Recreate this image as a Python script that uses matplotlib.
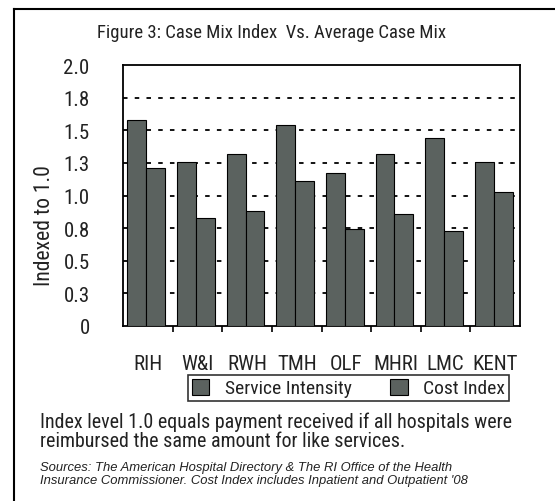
import matplotlib
matplotlib.use("Agg")
import matplotlib.pyplot as plt
from matplotlib.lines import Line2D
from matplotlib.patches import Patch
from matplotlib import font_manager
import numpy as np

categories = ["RIH", "W&I", "RWH", "TMH", "OLF", "MHRI", "LMC", "KENT"]
service_intensity = [1.58, 1.26, 1.32, 1.54, 1.17, 1.32, 1.44, 1.26]
cost_index = [1.21, 0.83, 0.88, 1.11, 0.74, 0.86, 0.73, 1.03]
ytick_values = [0, 0.25, 0.5, 0.75, 1.0, 1.25, 1.5, 1.75, 2.0]
ytick_labels = ["0", "0.3", "0.5", "0.8", "1.0", "1.3", "1.5", "1.8", "2.0"]
series_names = ["Service Intensity", "Cost Index"]

names = {f.name for f in font_manager.fontManager.ttflist}
cond = [n for n in ["Liberation Sans Narrow", "Arial Narrow", "Roboto Condensed",
                    "Open Sans Condensed", "DejaVu Sans Condensed"] if n in names]
narrow = bool(cond)
FONT = (cond[:1] if cond else []) + ["Liberation Sans", "DejaVu Sans"]
ITALIC_FONT = ["Liberation Sans", "DejaVu Sans"]
plt.rcParams['font.family'] = FONT
k = 1.0 if narrow else 0.82  # shrink sizes when no narrow font is available

W, H = 555, 502
fig = plt.figure(figsize=(W / 100, H / 100), dpi=100)
fig.patch.set_facecolor("white")

L, R, T, B = 123, 520, 66, 327
ax = fig.add_axes([L / W, 1 - B / H, (R - L) / W, (B - T) / H])

bar_color = "#5b625f"
x = np.arange(len(categories))
bw = 0.38
ax.bar(x + 0.09, service_intensity, width=bw, align="edge", color=bar_color,
       edgecolor="black", linewidth=0.8, zorder=3)
ax.bar(x + 0.09 + bw, cost_index, width=bw, align="edge", color=bar_color,
       edgecolor="black", linewidth=0.8, zorder=3)

ax.set_xlim(0, len(categories))
ax.set_ylim(0, 2.0)
ax.set_yticks(ytick_values)
ax.set_yticklabels(ytick_labels, fontsize=15 * (1.0 if narrow else 0.95), color="#222222")
ax.tick_params(axis="y", length=0, pad=24)

ax.set_xticks(x + 0.5)
ax.set_xticklabels(categories, fontsize=15 * k, color="#222222")
ax.set_xticks(np.arange(1, len(categories)), minor=True)
ax.tick_params(axis="x", which="major", length=0, pad=20)
ax.tick_params(axis="x", which="minor", length=4, width=1.2, direction="out", color="black")

for v in ytick_values[1:-1]:
    ax.axhline(v, color="black", linestyle=(0, (2.5, 4)), linewidth=1.3, zorder=1)

for s in ax.spines.values():
    s.set_linewidth(1.3)
    s.set_color("black")

fig.text(272 / W, 1 - 33 / H, "Figure 3: Case Mix Index  Vs. Average Case Mix",
         ha="center", va="center", fontsize=13.5 * k, color="#222222")
fig.text(44 / W, 1 - 226 / H, "Indexed to 1.0", rotation=90, ha="center",
         va="center", fontsize=15.5 * (1.0 if narrow else 0.92), color="#222222")

handles = [Patch(facecolor=bar_color, edgecolor="black", linewidth=0.8),
           Patch(facecolor=bar_color, edgecolor="black", linewidth=0.8)]
leg = fig.legend(handles, series_names, loc="center", ncol=2,
                 bbox_to_anchor=(348.5 / W, 1 - 389 / H), fontsize=14 * k,
                 frameon=True, fancybox=False, edgecolor="black",
                 borderpad=0.2, handlelength=0.9, handleheight=0.9,
                 handletextpad=0.8, columnspacing=2.0, borderaxespad=0)
leg.get_frame().set_linewidth(1.2)
for t in leg.get_texts():
    t.set_color("#222222")

fig.text(40 / W, 1 - 422 / H,
         "Index level 1.0 equals payment received if all hospitals were",
         ha="left", va="center", fontsize=14.4 * k, color="#222222")
fig.text(40 / W, 1 - 442 / H,
         "reimbursed the same amount for like services.",
         ha="left", va="center", fontsize=14.4 * k, color="#222222")
fig.text(40 / W, 1 - 468 / H,
         "Sources: The American Hospital Directory & The RI Office of the Health",
         ha="left", va="center", fontsize=9.4, style="italic", family=ITALIC_FONT,
         color="#222222")
fig.text(40 / W, 1 - 481 / H,
         "Insurance Commissioner. Cost Index includes Inpatient and Outpatient '08",
         ha="left", va="center", fontsize=9.4, style="italic", family=ITALIC_FONT,
         color="#222222")

fig.add_artist(Line2D([14 / W, 14 / W], [0, 1 - 10 / H], color="black", linewidth=1.5))
fig.add_artist(Line2D([14 / W, 1], [1 - 10 / H, 1 - 10 / H], color="black", linewidth=1.5))

fig.savefig("out.png", dpi=100)
